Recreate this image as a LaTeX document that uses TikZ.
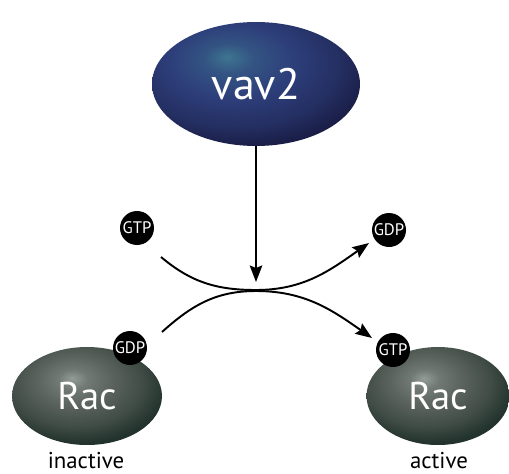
\documentclass[tikz,border=0pt]{standalone}
\usepackage{fontspec}
\setmainfont{PT Sans}
\usetikzlibrary{shapes.geometric,arrows.meta}

\definecolor{vavlite}{HTML}{3D7590}
\definecolor{vavmid}{HTML}{2D3E7A}
\definecolor{vavdeep}{HTML}{191C44}
\definecolor{raclite}{HTML}{939C97}
\definecolor{racmid}{HTML}{5A625D}
\definecolor{racdeep}{HTML}{22322C}

% glow sits a bit up and left of the middle
\pgfdeclareradialshading{vavglow}{\pgfpoint{-7bp}{11bp}}{%
  color(0bp)=(vavlite); color(6bp)=(vavmid!60!vavlite);
  color(15bp)=(vavmid); color(25bp)=(vavmid!55!vavdeep);
  color(33bp)=(vavdeep); color(85bp)=(vavdeep)}
\pgfdeclareradialshading{racglow}{\pgfpoint{-5bp}{9bp}}{%
  color(0bp)=(raclite); color(5bp)=(racmid!60!raclite);
  color(13bp)=(racmid); color(22bp)=(racmid!55!racdeep);
  color(30bp)=(racdeep); color(85bp)=(racdeep)}

\begin{document}
\begin{tikzpicture}[x=0.02cm, y=-0.02cm,
        blob/.style={ellipse, inner sep=0, text=white},
        nucl/.style={circle, fill=black, minimum size=0.68cm, inner sep=0,
            text=white, font=\fontsize{9.5}{10}\selectfont},
        arr/.style={line width=1.1pt,
            -{Stealth[length=3.3mm, width=2.5mm, inset=0.5mm]}},
        tag/.style={font=\fontsize{13}{15}\selectfont}]
    \useasboundingbox (0,0) rectangle (509,473);

    % exchange factor on top
    \node[blob, shading=vavglow, minimum width=4.16cm, minimum height=2.48cm,
        font=\fontsize{25}{29}\selectfont] (vav) at (256,84) {vav2};

    % the two Rac states
    \node[blob, shading=racglow, minimum width=3.0cm, minimum height=1.96cm,
        font=\fontsize{22}{26}\selectfont] (racoff) at (87,396) {Rac};
    \node[blob, shading=racglow, minimum width=2.86cm, minimum height=1.96cm,
        font=\fontsize{22}{26}\selectfont] (racon) at (438,396) {Rac};
    \node[tag] (off) at (86,461) {inactive};
    \node[tag] (on) at (439,461) {active};

    % bound / free nucleotides
    \node[nucl] (gtpfree) at (137,228) {GTP};
    \node[nucl] (gdpfree) at (389,230) {GDP};
    \node[nucl] (gdpbound) at (130,348) {GDP};
    \node[nucl] (gtpbound) at (393,350) {GTP};

    \coordinate (hit) at (256,282);
    \coordinate (gtpin) at (161,257);
    \coordinate (kisstop) at (256,290);
    \coordinate (gdpout) at (369,243);
    \coordinate (gdpin) at (162,332);
    \coordinate (kissbot) at (256,291);
    \coordinate (gtpout) at (372,338);

    \draw[arr] (vav.south) -- (hit);
    \draw[arr] (gtpin) to[out=-40, in=180] (kisstop)
        to[out=0, in=-145] (gdpout);
    \draw[arr] (gdpin) to[out=42, in=180] (kissbot)
        to[out=0, in=145] (gtpout);
\end{tikzpicture}
\end{document}
